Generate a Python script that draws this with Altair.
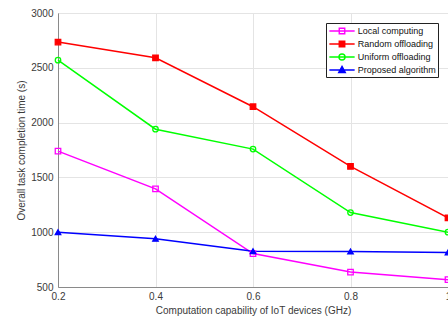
import altair as alt
import pandas as pd

# Computation capability of the IoT devices (GHz)
capability = [0.2, 0.4, 0.6, 0.8, 1.0]

# Overall task completion time (s) per scheme
local_computing = [1740, 1395, 805, 636, 567]
random_offloading = [2735, 2591, 2145, 1600, 1131]
uniform_offloading = [2570, 1940, 1758, 1179, 1000]
proposed_algorithm = [1000, 940, 827, 825, 815]

series_names = ["Local computing", "Random offloading", "Uniform offloading", "Proposed algorithm"]
series_colors = ["#ff00ff", "#ff0000", "#00ff00", "#0000ff"]
series_fills = ["transparent", "#ff0000", "transparent", "#0000ff"]
series_shapes = ["square", "square", "circle", "triangle-up"]

# Legend glyphs: a short line segment with the series marker on it
legend_shapes = [
    "M-2.3,0H2.3M-0.5,-0.5H0.5V0.5H-0.5Z",
    "M-2.3,0H2.3M-0.5,-0.5H0.5V0.5H-0.5Z",
    "M-2.3,0H2.3M0.55,0A0.55,0.55,0,1,1,-0.55,0A0.55,0.55,0,1,1,0.55,0Z",
    "M-2.3,0H2.3M0,-0.65L0.6,0.45L-0.6,0.45Z",
]

rows = []
for name, values in zip(series_names, [local_computing, random_offloading,
                                        uniform_offloading, proposed_algorithm]):
    for x, y in zip(capability, values):
        rows.append({"capability": x, "time": y, "series": name})
df = pd.DataFrame(rows)

FONT = "Liberation Sans"
TEXT = "#3a3a3a"

x_enc = alt.X("capability:Q",
              scale=alt.Scale(domain=[0.2, 1.0], nice=False, zero=False),
              axis=alt.Axis(values=[0.2, 0.4, 0.6, 0.8, 1.0], format="~g",
                            labelFlush=False,
                            title="Computation capability of IoT devices (GHz)"))
y_enc = alt.Y("time:Q",
              scale=alt.Scale(domain=[500, 3000], nice=False, zero=False),
              axis=alt.Axis(values=[500, 1000, 1500, 2000, 2500, 3000],
                            format="d", labelFlush=False,
                            title="Overall task completion time (s)"))

base = alt.Chart(df).encode(x=x_enc, y=y_enc)

lines = base.mark_line(strokeWidth=1.5).encode(
    color=alt.Color("series:N",
                    scale=alt.Scale(domain=series_names, range=series_colors),
                    legend=None)
)

points = base.mark_point(size=30, strokeWidth=1.3, opacity=1).encode(
    stroke=alt.Stroke("series:N",
                      scale=alt.Scale(domain=series_names, range=series_colors),
                      legend=None),
    fill=alt.Fill("series:N",
                  scale=alt.Scale(domain=series_names, range=series_fills),
                  legend=None),
    shape=alt.Shape("series:N",
                    scale=alt.Scale(domain=series_names, range=series_shapes),
                    legend=None),
)

legend_spec = alt.Legend(orient="none", legendX=268, legendY=10,
                         title=None, symbolSize=121, symbolStrokeWidth=1.4,
                         symbolOffset=8, labelOffset=9.2,
                         labelFont=FONT, labelFontSize=9, labelColor="#111111",
                         rowPadding=0, padding=1.5,
                         fillColor="white", strokeColor="#222222")

# Empty layer whose scales carry the legend (line + marker glyphs)
legend_layer = base.mark_point(opacity=1).encode(
    stroke=alt.Stroke("series:N",
                      scale=alt.Scale(domain=series_names, range=series_colors),
                      sort=series_names, legend=legend_spec),
    fill=alt.Fill("series:N",
                  scale=alt.Scale(domain=series_names, range=series_fills),
                  sort=series_names, legend=legend_spec),
    shape=alt.Shape("series:N",
                    scale=alt.Scale(domain=series_names, range=legend_shapes),
                    sort=series_names, legend=legend_spec),
).transform_filter("false")

chart = (
    alt.layer(lines, points, legend_layer)
    .resolve_scale(stroke="independent", fill="independent", shape="independent")
    .properties(width=390, height=274,
                autosize=alt.AutoSizeParams(type="none"),
                padding={"left": 58, "top": 13, "right": 0, "bottom": 33})
    .configure_view(stroke="#8a8a8a", strokeWidth=1)
    .configure_axis(labelFont=FONT, titleFont=FONT, labelFontSize=10,
                    titleFontSize=10, labelColor=TEXT, titleColor=TEXT,
                    titleFontWeight="normal", grid=True, gridColor="#e4e4e4",
                    domainColor="#8a8a8a", ticks=False, labelPadding=5)
    .configure_axisY(titlePadding=4)
    .configure_axisX(titlePadding=4, labelPadding=4)
)

chart.save("out.html", embed_options={"renderer": "svg", "actions": False})
